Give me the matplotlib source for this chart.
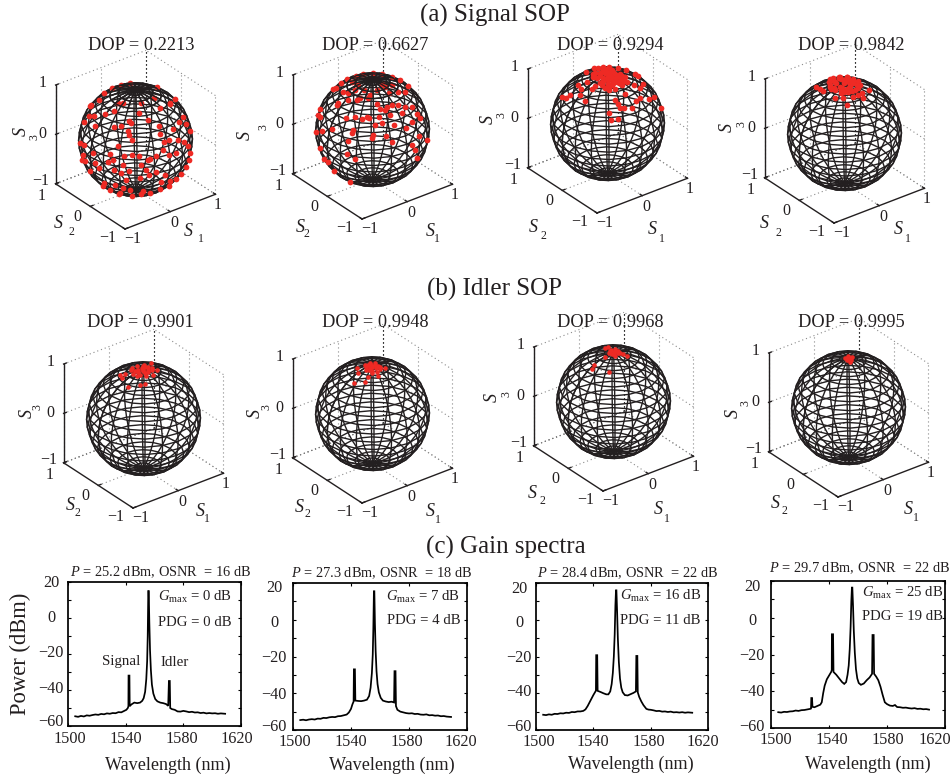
import numpy as np, matplotlib
matplotlib.use('Agg')
import matplotlib.pyplot as plt
from mpl_toolkits.mplot3d import proj3d
from matplotlib.ticker import MultipleLocator

plt.rcParams['font.family'] = 'Liberation Serif'
plt.rcParams['mathtext.fontset'] = 'custom'
plt.rcParams['mathtext.rm'] = 'Liberation Serif'
plt.rcParams['mathtext.it'] = 'Liberation Serif:italic'

# ---------- data: Stokes parameters (S1, S2, S3) read from the spheres ----------
sig1 = [(-.11,.54,.83),(.04,.46,.88),(.17,.39,.91),(.52,.07,.85),(-.24,.60,.76),(-.46,.44,.77),(-.53,.59,.61),
(.42,-.44,.80),(.72,-.21,.67),(-.50,.65,.57),(-.74,.38,.56),(-.74,.24,.62),(-.78,.46,.43),(-.84,.08,.53),
(-.70,-.30,.65),(-.62,-.40,.67),(-.48,-.45,.75),(-.27,-.46,.85),(-.20,-.62,.76),(-.07,-.76,.64),(.13,-.53,.84),
(.40,-.46,.79),(.42,-.72,.55),(.58,-.60,.54),(.59,-.69,.42),(.65,-.71,.27),(.19,-.83,.52),(.05,-.91,.40),
(-.11,-.84,.54),(-.06,-.91,.40),(.24,-.91,.33),(.40,-.89,.23),(.49,-.87,.09),(.64,-.75,-.15),(.58,-.78,-.26),
(.50,-.79,-.36),(.39,-.79,-.47),(.15,-.98,.13),(-.01,-.99,.15),(-.13,-.95,.28),(-.27,-.94,.19),(-.37,-.91,.16),
(-.42,-.90,.15),(-.54,-.81,.22),(-.63,-.73,.25),(-.74,-.64,.22),(-.78,-.51,.37),(-.58,-.58,.57),(-.58,-.65,.50),
(-.58,-.53,.62),(-.47,-.49,.73),(-.42,-.04,.91),(-.37,-.11,.92),(-.67,.02,.74),(-.55,-.11,.83),(-.13,-.33,.94),
(.17,-.32,.93),(-.88,-.42,.22),(-.89,.45,.04),(-.97,.21,.14),(-.96,.27,-.09),(-.95,.23,-.21),(-.99,-.06,.11),
(-.99,-.11,-.07),(-.92,-.40,.06),(-.87,-.48,.12),(-.97,-.22,-.13),(-.91,.13,-.38),(-.89,.37,-.26),
(-.85,-.21,-.48),(-.86,-.51,-.07),(-.77,-.64,.06),(-.78,-.61,-.12),(-.69,-.72,-.07),(-.53,-.85,.07),(-.45,-.89,-.04),
(-.39,-.91,-.16),(-.28,-.96,-.11),(-.10,-.97,-.23),(-.14,-.92,-.38),(.08,-.88,-.47),(.30,-.78,-.55),(-.71,-.66,-.26),
(-.54,-.82,-.21),(-.79,-.43,-.44),(-.76,-.04,-.65),(-.68,-.15,-.72),(-.62,-.35,-.70),(-.60,-.61,-.53),(-.34,-.61,-.71),
(-.22,-.69,-.68),(-.05,-.76,-.64),(.17,-.74,-.65),(-.41,-.42,-.81),(-.58,-.27,-.77),(-.69,-.53,-.49),(-.39,-.71,-.58)]
sig2 = [(-.00,.49,.87),(.12,.42,.90),(.26,.32,.91),(.37,.22,.90),(-.14,.56,.82),(.42,-.00,.91),(.59,-.02,.80),
(.63,-.21,.75),(-.24,.60,.76),(-.43,.48,.77),(-.39,.64,.66),(-.24,.28,.93),(-.26,.07,.96),(-.37,.02,.93),
(-.48,.07,.87),(-.49,.20,.85),(-.28,-.11,.95),(-.27,-.28,.92),(-.11,-.26,.96),(.08,-.26,.96),(.23,-.25,.94),
(.25,-.42,.87),(.40,-.41,.82),(.04,-.41,.91),(.08,-.16,.98),(-.33,-.31,.89),(-.43,-.20,.88),(-.57,-.04,.82),
(-.68,.10,.73),(-.71,.11,.70),(-.49,-.18,.85),(-.27,-.47,.84),(-.27,-.56,.78),(-.14,-.60,.79),(-.04,-.61,.79),
(.08,-.64,.76),(.20,-.68,.71),(.35,-.67,.65),(.07,-.75,.65),(-.16,-.71,.68),(-.20,-.62,.76),(.40,-.75,.53),
(.45,-.78,.43),(-.68,.64,.37),(-.74,.62,.27),(-.83,.43,.36),(-.66,-.36,.66),(-.52,-.51,.68),(-.60,-.47,.65),
(-.51,-.55,.66),(-.76,-.24,.61),(-.35,-.64,.68),(-.35,-.73,.59),(-.16,-.83,.53),(.04,-.90,.43),(.21,-.85,.48),
(-.47,-.68,.57),(-.93,-.05,.36),(-.96,.20,.22),(-.85,.52,.02),(-.77,-.44,.47),(-.79,-.45,.41),(-.54,-.73,.42),
(-.58,-.73,.37),(-.36,-.85,.39),(.57,-.82,-.03),(.31,-.93,.18),(-.87,-.42,.27),(-.28,-.92,.28),(.11,-.99,.10),
(.19,-.98,-.03),(.26,-.93,-.24),(-.94,.29,-.18),(-.89,.25,-.39),(-.93,.06,-.36),(-.90,-.43,.03),(-.82,-.57,-.05),
(-.81,.06,-.58),(-.65,-.20,-.74)]
sig3 = [(-.07,.12,.99),(.05,.09,.99),(.15,.03,.99),(.22,-.07,.97),(.24,-.19,.95),(.18,-.32,.93),(.04,-.36,.93),
(-.11,-.37,.92),(-.23,-.33,.91),(-.26,-.17,.95),(-.21,.04,.98),(-.13,-.05,.99),(-.04,-.13,.99),(.06,-.18,.98),
(-.17,.20,.97),(-.07,-.26,.96),(.09,-.24,.97),(-.26,-.27,.93),(.02,-.04,1.00),(-.08,.53,.84),(.05,.46,.89),
(.12,.42,.90),(.19,.37,.91),(.27,.31,.91),(.39,.20,.90),(.49,.11,.87),(.63,.03,.77),(.63,-.07,.77),
(-.48,.22,.85),(-.37,.12,.92),(-.35,-.09,.93),(-.42,-.09,.90),(-.53,.08,.85),(-.61,.00,.79),(-.63,-.16,.76),
(-.70,.39,.60),(-.71,.28,.65),(-.66,.21,.72),(-.25,-.53,.81),(-.24,-.61,.76),(-.23,-.66,.71),(-.17,-.70,.69),
(-.02,-.74,.67),(-.02,-.53,.85),(.11,-.67,.73),(.23,-.64,.74),(.41,-.65,.65),(.58,-.57,.59),(.71,-.61,.34),
(-.44,-.62,.65),(-.46,-.69,.55),(-.35,-.75,.56),(.29,-.39,.87),(.36,-.47,.81),(.54,-.32,.77),
(-.13,.05,.99),(.10,.05,.99),(-.05,-.22,.97),(.12,-.05,.99),(.05,.20,.98),(-.18,-.10,.98),(.00,.00,1.00),(.18,.10,.98),(-.10,.22,.97),(.12,-.25,.96),(-.15,-.22,.96),(.20,-.15,.97),(.10,.18,.98),(-.22,.12,.97),
(-.16,-.21,.96),(-.08,-.10,.99),(-.20,-.10,.97),(-.03,-.25,.97),(-.12,-.28,.95),(.03,-.10,.99),(-.10,-.15,.98),(.02,-.30,.95),(-.18,-.28,.94),(-.25,-.10,.96),(.14,-.16,.98),(.15,-.28,.95),(-.01,.07,1.00)]
sig4 = [(.09,.44,.90),(.19,.37,.91),(.28,.30,.91),(.32,.16,.93),(.30,-.01,.96),(.24,-.13,.96),(.07,-.22,.97),
(-.08,-.21,.97),(-.20,-.17,.97),(-.23,-.02,.97),(-.18,.18,.97),(-.08,.13,.99),(.01,.04,1.00),(.10,-.02,.99),
(-.12,-.07,.99),(-.00,-.12,.99),(.18,-.12,.98),(.04,.46,.88),(.18,.38,.91),(.28,.30,.91),(-.35,.26,.90),
(-.35,.15,.92),(-.29,.43,.86),(.31,-.29,.91),(.08,-.44,.89),(.03,-.36,.93),(-.09,-.35,.93),(-.35,-.18,.92),
(-.24,-.28,.93),(-.26,-.41,.87),(.12,-.34,.93),(-.22,.13,.97),
(.10,.15,.98),(.18,.05,.98),(.22,.18,.96),(-.03,.25,.97),(.10,.30,.95),(-.12,.30,.95),(.05,-.10,.99),(-.15,-.18,.97),(-.25,.05,.97),(.15,-.20,.97),
(-.10,.00,.99),(.05,.05,1.00),(-.15,-.10,.98),(.10,.10,.99),(-.05,-.15,.99),(.15,-.05,.99),(-.05,.20,.98),(.12,.25,.96),(.22,.05,.97),(-.20,.05,.98),(.00,-.22,.97)]
idl1 = [(-.16,.14,.98),(-.02,.17,.99),(.11,.14,.98),(.15,-.04,.99),(.20,-.12,.97),(.04,-.23,.97),(-.09,-.20,.98),
(-.15,-.10,.98),(-.22,.01,.98),(-.02,-.02,1.00),(-.12,-.00,.99),(.02,-.11,.99),(-.29,.16,.94),(-.35,.22,.91),
(-.40,.11,.91),(-.46,-.16,.87),(-.29,-.28,.91),(-.21,-.32,.92),(.29,.17,.94),(-.12,.19,.98),
(.06,.05,1.00),(.10,-.10,.99),(-.08,.05,1.00),(-.05,-.12,.99),(.08,.12,.99),(-.15,.06,.99),(.12,.03,.99),(-.20,-.08,.98),(.00,.05,1.00),(-.05,-.05,1.00),(.05,-.05,1.00)]
idl2 = [(-.11,.07,.99),(.00,.08,1.00),(.06,.00,1.00),(.07,-.13,.99),(-.07,-.21,.97),(-.17,-.20,.97),(-.18,-.05,.98),
(-.07,-.07,1.00),(.13,-.19,.97),(-.26,.11,.96),(-.33,-.02,.94),(-.51,-.12,.85),(-.36,-.26,.89),(-.26,-.22,.94),
(-.11,-.31,.94),(.02,-.05,1.00),(-.03,.03,1.00),(-.12,-.14,.98),(.03,-.18,.98),(-.14,.01,.99),
(-.05,-.05,1.00),(.05,-.08,.99),(-.10,-.05,.99),(-.02,-.12,.99),(-.15,-.10,.98),(-.08,.02,1.00)]
idl3 = [(-.03,.06,1.00),(.09,.08,.99),(.09,-.07,.99),(-.05,-.11,.99),(-.06,-.02,1.00),(.11,.00,.99),(-.20,-.02,.98),
(-.00,.24,.97),(.07,.24,.97),(.14,-.20,.97),(-.44,.00,.90),(-.50,-.03,.86),(-.35,-.34,.87),(.13,-.11,.98),
(.00,.00,1.00),(.05,.03,1.00),(-.03,-.05,1.00),(.05,-.05,1.00),(-.08,.03,1.00),(.03,.10,.99)]
idl4 = [(-.05,.04,1.00),(.05,.07,1.00),(.07,-.00,1.00),(-.04,-.10,.99),(-.07,-.04,1.00),(-.02,-.02,1.00),(.02,.02,1.00),(.00,-.06,1.00)]
signal_sop = [sig1, sig2, sig3, sig4]
idler_sop = [idl1, idl2, idl3, idl4]
dop_signal = ['0.2213', '0.6627', '0.9294', '0.9842']
dop_idler = ['0.9901', '0.9948', '0.9968', '0.9995']

# ---------- data: spectra (nm, dBm) ----------
floor_left1 = [(1505,-54.6),(1507,-54.9),(1509,-54.4),(1511,-54.7),(1513,-54.1),(1515,-54.3),(1517,-53.9),(1519,-53.6),(1521,-53.8),(1523,-53.3),(1525,-53.5),(1527,-53.0),(1529,-53.2),(1531,-52.8),(1533,-52.9),(1535,-52.3),(1537,-52.4),(1539,-51.6)]
spec1 = floor_left1 + [(1540.5,-51),(1541.5,-50),(1541.9,-49),(1542,-32),(1542.6,-32),(1542.8,-49),(1544,-48),(1546,-47),(1548,-47.3),(1550,-47),(1551.5,-46),(1552.5,-44.5),(1553.5,-41),(1554.3,-34),(1554.9,-24),(1555.3,-10),(1555.7,15),(1556,15),(1556.4,-2),(1556.9,-18),(1557.5,-29),(1558.2,-37),(1559.2,-42),(1560.5,-45),(1562,-46.3),(1564,-47),(1566,-47.3),(1568,-47.8),(1569.5,-48.8),(1570,-35),(1570.6,-35),(1570.9,-50),(1572,-50.6),(1574,-51),(1576,-51.9),(1578,-52),(1580,-51.6),(1582,-51.9),(1584,-52.3),(1586,-52.1),(1588,-52.5),(1590,-52.4),(1592,-52.8),(1594,-52.6),(1596,-53),(1598,-52.8),(1600,-53),(1602,-52.9),(1604,-53.2),(1606,-53),(1609,-53.2)]
spec2 = [(1505,-54.6),(1507,-54.4),(1509,-54.7),(1511,-54.3),(1513,-54.1),(1515,-54.3),(1517,-53.8),(1519,-53.9),(1521,-53.4),(1523,-53.5),(1525,-53.1),(1527,-52.9),(1529,-53),(1531,-52.5),(1533,-52.4),(1535,-52),(1537,-51.6),(1538.5,-50.5),(1540,-48.5),(1541,-46),(1541.8,-44.5),(1542,-27),(1542.7,-27),(1543,-44),(1545,-44.2),(1547,-44.3),(1549,-44),(1551,-43.5),(1552.5,-41.5),(1553.5,-37),(1554.4,-29),(1555,-19),(1555.4,-5),(1555.8,15.5),(1556.1,15.5),(1556.5,-2),(1557,-17),(1557.6,-28),(1558.3,-35),(1559.2,-39.5),(1560.5,-42.5),(1562,-44),(1564,-44.5),(1566,-44.8),(1568,-44.6),(1569.7,-45),(1570,-28),(1570.7,-28),(1571,-47),(1572,-49),(1574,-50),(1576,-50.4),(1578,-50.8),(1580,-51),(1582,-50.9),(1584,-51.3),(1586,-51.2),(1588,-51.6),(1590,-51.7),(1592,-51.5),(1594,-52),(1596,-51.9),(1598,-52.2),(1600,-52.1),(1602,-52.5),(1604,-52.4),(1606,-52.7),(1609,-52.9)]
spec3 = [(1505,-51.7),(1507,-51.9),(1509,-51.5),(1511,-51.7),(1513,-51.2),(1515,-51.3),(1517,-50.9),(1519,-51),(1521,-50.6),(1523,-50.7),(1525,-50.2),(1527,-50.3),(1529,-49.9),(1531,-49.9),(1533,-49.6),(1534.5,-48.8),(1536,-47),(1538,-44),(1540,-41),(1541.5,-39),(1541.8,-38.5),(1542,-19.3),(1542.7,-19.3),(1543,-38.7),(1545,-39.3),(1547,-40),(1549,-40.6),(1550.5,-40.6),(1551.8,-39),(1552.8,-35),(1553.6,-29),(1554.3,-20),(1554.9,-8),(1555.4,8),(1555.8,16),(1556.1,16),(1556.6,4),(1557.1,-10),(1557.8,-23),(1558.6,-32),(1559.5,-37),(1560.5,-39.5),(1562,-41),(1564,-41.2),(1566,-40.5),(1568,-39.8),(1569.7,-39),(1570,-19.7),(1570.7,-19.7),(1571,-39.5),(1572,-42),(1573.5,-44.5),(1575,-46.5),(1577,-48.5),(1578.5,-48.9),(1580,-49),(1582,-49.3),(1584,-49.7),(1586,-49.6),(1588,-50),(1590,-49.9),(1592,-50.2),(1594,-50),(1596,-50.4),(1598,-50.3),(1600,-50.5),(1602,-50.3),(1604,-50.6),(1606,-50.4),(1609,-50.6)]
spec4 = [(1505,-51.4),(1507,-51.6),(1509,-51.2),(1511,-51.3),(1513,-51),(1515,-50.9),(1517,-50.5),(1519,-50.7),(1521,-50.3),(1523,-50.2),(1525,-49.9),(1527,-49.6),(1527.6,-49.4),(1527.8,-43.7),(1528.3,-43.7),(1528.6,-48.5),(1530,-48.7),(1532,-48),(1534,-47.3),(1535,-46),(1536,-41),(1537,-37),(1538.5,-33.5),(1540,-31.5),(1541.5,-29.5),(1541.9,-28.5),(1542,-9),(1542.8,-9),(1543.1,-29.5),(1545,-31),(1547,-33),(1549,-35),(1550.5,-36),(1551.8,-35),(1552.8,-31),(1553.6,-26),(1554.3,-17),(1554.9,-5),(1555.4,9),(1555.8,16.4),(1556.1,16.4),(1556.6,6),(1557.1,-7),(1557.8,-19),(1558.6,-28),(1559.5,-33),(1560.5,-35.5),(1562,-36.5),(1564,-35.8),(1566,-34),(1568,-32.5),(1569.7,-30.5),(1570,-9.4),(1570.8,-9.4),(1571.1,-30.5),(1572.5,-32),(1574,-34),(1575.5,-37.5),(1577,-42),(1578.5,-46),(1580,-47),(1582,-47.8),(1584,-48),(1585.5,-47.5),(1587,-48.6),(1589,-48.7),(1591,-49),(1593,-48.9),(1595,-49.2),(1597,-49.4),(1599,-49.2),(1601,-49.6),(1603,-49.5),(1605,-49.8),(1607,-49.7),(1609,-50)]
spectra = [spec1, spec2, spec3, spec4]
x_ticks = [1500, 1540, 1580, 1620]
y_ticks = [20, 0, -20, -40, -60]
gmax_labels = ['0', '7', '16', '25']
pdg_labels = ['0', '4', '11', '19']
powers = ['25.2', '27.3', '28.4', '29.7']
osnrs = ['16', '18', '22', '22']

# ---------- layout (pixels) ----------
W, H = 952, 778
BLACK = '#231f20'
RED = '#ee2a24'
TXT = '#231f20'
corner_a = [(125, 229), (362, 219), (597, 213), (834, 223)]
corner_b = [(133, 508), (362, 503), (603, 491), (838, 497)]
title_x = [141, 375, 610, 851]
SCALE = 57.0

labels_a = [
    ((21,132),(34,137),(58,224),(71,232),(188,231),(201,239)),
    ((245,136),(263,127),(300,227),(306,234),(430,231),(437,239)),
    ((488,119),(501,115),(533,227),(543,236),(652,230),(662,239)),
    ((727,128),(741,124),(764,224),(778,233),(898,229),(908,239))]
labels_b = [
    ((27,413),(37,407),(70,505),(77,513),(200,511),(207,519)),
    ((255,413),(266,407),(299,507),(307,514),(430,512),(438,520)),
    ((492,398),(506,394),(532,493),(542,501),(658,510),(667,519)),
    ((733,413),(745,403),(775,503),(784,511),(908,509),(916,518))]

fig = plt.figure(figsize=(W/100, H/100), dpi=100, facecolor='white')

def T(x, y, s, size=11.5, **kw):
    kw.setdefault('ha', 'center'); kw.setdefault('va', 'center')
    return fig.text(x/W, 1-y/H, s, fontsize=size, color=TXT, **kw)

az, el = -127.5, 30

def project(ax, p):
    X, Y, _ = proj3d.proj_transform(p[0], p[1], p[2], ax.get_proj())
    return ax.transData.transform((X, Y))

def place(ax, bx, by, scale):
    side = 290
    cx, cy = bx + 10, by - 89
    ax.set_position([(cx-side/2)/W, 1-(cy+side/2)/H, side/W, side/H])
    ax.set_box_aspect((1, 1, 1), zoom=1)
    ax.apply_aspect()
    a = project(ax, (-1, -1, -1)); b = project(ax, (-1, -1, 1))
    z = scale*2*np.cos(np.deg2rad(el)) / np.hypot(*(b-a))
    ax.set_box_aspect((1, 1, 1), zoom=z)
    a = project(ax, (-1, -1, -1))
    dx = bx - a[0]; dy = (H-by) - a[1]
    pos = ax.get_position(original=True)
    ax.set_position([pos.x0+dx/W, pos.y0+dy/H, pos.width, pos.height])

def sphere(bx, by, pts, black_pole, dot_size):
    ax = fig.add_axes([0, 0, .3, .3], projection='3d', proj_type='ortho', computed_zorder=False)
    ax.view_init(elev=el, azim=az)
    ax.set_xlim(-1, 1, view_margin=0); ax.set_ylim(-1, 1, view_margin=0); ax.set_zlim(-1, 1, view_margin=0)
    ax.set_xticks([-1, 0, 1]); ax.set_yticks([-1, 0, 1]); ax.set_zticks([-1, 0, 1])
    ax.set_axis_off(); ax.patch.set_visible(False)
    place(ax, bx, by, SCALE)
    grey = dict(color='#8a8a8a', ls=(0, (1, 2.6)), lw=0.8, zorder=1)
    dark = dict(color='#111111', ls=(0, (1, 2.6)), lw=0.8, zorder=1)
    for t in (-1, 0, 1):
        ax.plot([1, 1], [t, t], [-1, 1], **(dark if t == 1 else grey))
        ax.plot([t, t], [1, 1], [-1, 1], **(dark if t == 1 else grey))
        ax.plot([1, 1], [-1, 1], [t, t], **grey)
        ax.plot([-1, 1], [1, 1], [t, t], **(dark if t == -1 else grey))
        if t != -1:
            ax.plot([t, t], [-1, 1], [-1, -1], **grey)
            ax.plot([-1, 1], [t, t], [-1, -1], **grey)
    solid = dict(color=BLACK, lw=1.0, zorder=2)
    ax.plot([-1, 1], [-1, -1], [-1, -1], **solid)
    ax.plot([-1, -1], [-1, 1], [-1, -1], **solid)
    ax.plot([-1, -1], [1, 1], [-1, 1], **solid)
    for t in (-1, 0, 1):
        ax.plot([t, t], [-1, -0.94], [-1, -1], **solid)
        ax.plot([-1, -0.94], [t, t], [-1, -1], **solid)
        ax.plot([-1, -0.94], [1, 1], [t, t], **solid)
    lon = np.linspace(-np.pi, np.pi, 21); lat = np.linspace(-np.pi/2, np.pi/2, 21)
    X = np.outer(np.cos(lat), np.cos(lon)); Y = np.outer(np.cos(lat), np.sin(lon)); Z = np.outer(np.sin(lat), np.ones_like(lon))
    ax.plot_wireframe(X, Y, Z, rstride=1, cstride=1, color=BLACK, lw=1.0, zorder=4)
    s = np.array(pts).T
    ax.scatter(s[0], s[1], s[2], s=dot_size, color=RED, linewidths=0, depthshade=False, zorder=5)
    if black_pole:
        ax.plot_wireframe(X[17:], Y[17:], Z[17:], rstride=1, cstride=1, color=BLACK, lw=1.0, zorder=6)
    off_x = {-1: (8, 10), 0: (4, 11), 1: (2, 11)}
    off_y = {-1: (-17, 9), 0: (-13, 11), 1: (-14, 12)}
    off_z = {-1: (-15, -3), 0: (-13, 0), 1: (-13, -2)}
    names = {-1: '\u22121', 0: '0', 1: '1'}
    for t in (-1, 0, 1):
        for pnt, off in (((t, -1, -1), off_x[t]), ((-1, t, -1), off_y[t]), ((-1, 1, t), off_z[t])):
            px = project(ax, pnt)
            T(px[0]+off[0], H-px[1]+off[1], names[t], size=11.5)

for i in range(4):
    T(title_x[i], 45, 'DOP = '+dop_signal[i], size=13.2)
    T(title_x[i] - (1 if i == 0 else 0), 323, 'DOP = '+dop_idler[i], size=13.2)
    sphere(*corner_a[i], signal_sop[i], i < 2, 17)
    sphere(*corner_b[i], idler_sop[i], False, 11)
    for lab in (labels_a[i], labels_b[i]):
        T(*lab[0], 'S', size=13, style='italic', rotation=90)
        T(*lab[1], '3', size=8.5, rotation=90)
        T(*lab[2], 'S', size=13, style='italic')
        T(*lab[3], '2', size=8.5)
        T(*lab[4], 'S', size=13, style='italic')
        T(*lab[5], '1', size=8.5)

T(494.5, 15, '(a) Signal SOP', size=18)
T(494, 289, '(b) Idler SOP', size=18)
T(506, 547, '(c) Gain spectra', size=18)

# ---------- spectra ----------
boxes = [(68, 241, 582, 726), (293, 467, 583, 730), (536, 708, 583, 730), (771, 945, 581, 728)]
ylab_y = [[583,618,653,689,722], [588,623,658,695,727], [589,623,658,692,727], [587,621,656,692,727]]
ylab_x = [51, 274, 519, 752]
xlab_x = [[70,126,182,237], [295,351,407,461], [539,593,649,703], [776,832,888,935]]
xlab_y = [739, 742, 742, 740]
xtitle = [(168,765), (392,765), (631,764), (868,764)]
ttl = [(161,572), (382,573), (628,573), (860,568)]
ann_x = [232, 460.5, 701, 943.5]
ann_y = [(597,622), (597,621), (596,621), (593,617)]
for i, (l, r, t, b) in enumerate(boxes):
    ax = fig.add_axes([l/W, 1-b/H, (r-l)/W, (b-t)/H])
    s = np.array(spectra[i]).T
    ax.plot(s[0], s[1], color='black', lw=1.25, solid_joinstyle='miter')
    ax.set_xlim(1500, 1620); ax.set_ylim(-60, 20)
    ax.set_xticks(x_ticks); ax.set_yticks(y_ticks)
    ax.yaxis.set_minor_locator(MultipleLocator(10))
    ax.tick_params(which='both', direction='in', length=2.5, width=0.8, top=True, right=True,
                   labelleft=False, labelbottom=False)
    for sp in ax.spines.values():
        sp.set_linewidth(1.25)
    for val, yy in zip(y_ticks, ylab_y[i]):
        T(ylab_x[i], yy, str(val).replace('-', '\u2212'), size=11.7)
    for val, xx in zip(x_ticks, xlab_x[i]):
        T(xx, xlab_y[i], str(val), size=11.7)
    T(*xtitle[i], 'Wavelength (nm)', size=13.1)
    T(*ttl[i], r'$\mathit{P}$ = %s dBm, OSNR  = %s dB' % (powers[i], osnrs[i]), size=10.4)
    T(ann_x[i], ann_y[i][0], r'$\mathit{G}_{\mathrm{max}}$ = %s dB' % gmax_labels[i], size=10.6, ha='right')
    T(ann_x[i], ann_y[i][1], 'PDG = %s dB' % pdg_labels[i], size=10.6, ha='right')
T(121, 662, 'Signal', size=10.8)
T(175, 662, 'Idler', size=10.8)
T(20, 654, 'Power (dBm)', size=16.3, rotation=90)

fig.savefig('out.png', dpi=100)
